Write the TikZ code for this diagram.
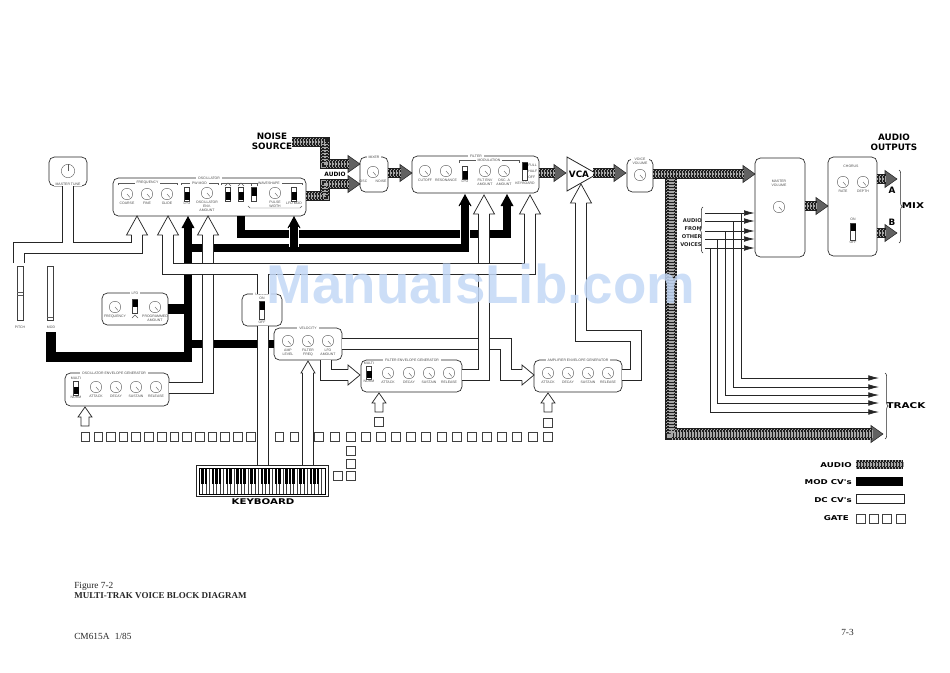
\documentclass[tikz,border=0pt]{standalone}
\usepackage{fontspec}
\setmainfont{Liberation Sans}
\newfontfamily\headfont{DejaVu Sans}
\newfontfamily\wideheadfont[FakeStretch=1.3]{DejaVu Sans}
\newfontfamily\capfont{Liberation Serif}
\usetikzlibrary{positioning}
\usetikzlibrary{fit}
\usetikzlibrary{arrows.meta}
\usetikzlibrary{decorations.pathreplacing}
\definecolor{stamp}{HTML}{C3D8F6}

\tikzset{
	panel/.style={
		draw=black!85,
		line width=0.5pt,
		rounded corners=4pt,
		inner sep=0pt,
	},
	tinylabel/.style={
		font=\fontsize{2.6}{3.1}\selectfont,
		text=black!70,
		inner sep=0pt,
		align=center,
	},
	paneltitle/.style={
		tinylabel,
		fill=white,
		inner xsep=1.5pt,
	},
	biglabel/.style={
		font=\headfont\bfseries\fontsize{6.6}{7.6}\selectfont,
		inner sep=0pt,
		align=center,
	},
	widelabel/.style={
		font=\wideheadfont\bfseries\fontsize{#1}{7}\selectfont,
		inner sep=0pt,
		align=center,
	},
	midlabel/.style={
		font=\headfont\bfseries\fontsize{3.9}{6}\selectfont,
		text=black!85,
		inner sep=0pt,
		align=right,
	},
	caplabel/.style={
		font=\capfont\fontsize{7}{7.6}\selectfont,
		inner sep=0pt,
		text=black!85,
		anchor=west,
	},
	knobdial/.style={
		circle,
		draw=black!65,
		line width=0.3pt,
		minimum size=8.6pt,
		inner sep=0pt,
	},
	knobline/.style={
		draw=black!65,
		line width=0.3pt,
	},
	sliderbox/.style={
		draw=black!75,
		line width=0.3pt,
		fill=white,
		inner sep=0pt,
	},
	sectionline/.style={
		draw=black!65,
		line width=0.3pt,
	},
	gatebox/.style={
		draw=black!75,
		line width=0.45pt,
		minimum size=6.6pt,
		inner sep=0pt,
	},
	dcbus/.style={
		draw=black!85,
		line width=0.75pt,
		double=white,
		double distance=7.2pt,
		line join=miter,
	},
	dctip/.style={
		draw=black!85,
		fill=white,
		line width=0.55pt,
		line join=miter,
	},
	modbus/.style={
		draw=black,
		line width=6.3pt,
		line join=miter,
	},
	modhalo/.style={
		preaction={draw=white,line width=8pt},
	},
	audiolayer/.style={
		postaction={
			draw=black!35,
			line width=#1,
			dash pattern=on 0.75pt off 1.5pt,
		},
	},
	audiophase/.style={
		postaction={
			draw=black!88,
			line width=#1,
		},
		postaction={
			draw=black!35,
			line width=#1,
			dash pattern=on 0.75pt off 1.5pt,
			dash phase=1.125pt,
		},
	},
	audiobus/.style={
		draw=black!88,
		line width=#1,
		line join=miter,
		audiolayer={#1-0.75pt},
		audiophase={#1-3pt},
		audiolayer={#1-5.25pt},
	},
	audiotip/.style={
		draw=black!85,
		fill=black!62,
		line width=0.4pt,
		line join=miter,
	},
	voiceline/.style={
		draw=black!85,
		line width=0.5pt,
	},
	voicetip/.style={
		voiceline,
		-{Latex[length=8pt,width=4.2pt]},
	},
	bracer/.style={
		draw=black!85,
		line width=0.4pt,
		decorate,
		decoration={brace,amplitude=2.4pt},
	},
}

% knob: name, x, y, text under it
\newcommand{\knob}[4]{
	\node[knobdial] (#1) at (#2,#3) {};
	\draw[knobline] (#1.center) -- ++(3,3.4);
	\node[tinylabel,below=1.3pt of #1] (#1label) {#4};
}
% slider: name, x, top, bottom, middle of black part
\newcommand{\slider}[5]{
	\node[sliderbox,fit={(#2-2.5,#3) (#2+2.5,#4)}] (#1) {};
	\fill[black] (#2-2.5,#5-3.6) rectangle (#2+2.5,#5+3.6);
}
\newcommand{\dchead}[4]{
	\begin{scope}[shift={(#2,#3)},rotate=#4]
		\draw[dctip] (-5.3,19) -- (-10.5,19) -- (0,0) -- (10.5,19) -- (5.3,19);
		\coordinate (#1) at (0,19);
	\end{scope}
}
\newcommand{\smallhead}[3]{
	\begin{scope}[shift={(#2,#3)},rotate=-90]
		\draw[dctip] (-5.3,12) -- (-10,12) -- (0,0) -- (10,12) -- (5.3,12);
		\coordinate (#1) at (0,12);
	\end{scope}
}
\newcommand{\modhead}[3]{
	\fill[black] (#2-6.5,#3+12) -- (#2,#3) -- (#2+6.5,#3+12) -- cycle;
	\coordinate (#1) at (#2,#3+11);
}
\newcommand{\audiohead}[3]{
	\draw[audiotip] (#2-12,#3-8.5) -- (#2,#3) -- (#2-12,#3+8.5) -- cycle;
	\coordinate (#1) at (#2-11,#3);
}
\newcommand{\gatehead}[3]{
	\draw[dctip] (#2,#3) -- (#2+7,#3+10) -- (#2+4,#3+10) -- (#2+4,#3+19)
		-- (#2-4,#3+19) -- (#2-4,#3+10) -- (#2-7,#3+10) -- cycle;
}

\begin{document}
\begin{tikzpicture}[x=0.75pt,y=-0.75pt]
\useasboundingbox (0,0) rectangle (950,672);

% panels
\node[panel,fit={(49,157) (87,186)}] (tune) {};
\node[panel,fit={(113,178) (306,216)}] (osc) {};
\node[panel,fit={(360,157) (388,192)}] (mixer) {};
\node[panel,fit={(412,156) (539,193)}] (filter) {};
\node[panel,fit={(627,159) (653,192)}] (voice) {};
\node[panel,fit={(755,158) (805,257)}] (master) {};
\node[panel,fit={(828,157) (877,256)}] (chorus) {};
\node[panel,fit={(102,293) (168,325)}] (lfo) {};
\node[panel,fit={(242,294) (282,326)}] (unison) {};
\node[panel,fit={(274,328) (342,360)}] (velocity) {};
\node[panel,fit={(65,373) (169,406)}] (oscenv) {};
\node[panel,fit={(361,360) (462,392)}] (filtenv) {};
\node[panel,fit={(534,360) (622,392)}] (ampenv) {};
\node[draw=black!85,line width=0.6pt,inner sep=0pt,fit={(196,465) (328,496)}] (keys) {};
\draw[line width=0.6pt,draw=black!85,fill=white] (567,157) -- (597,174) -- (567,191) -- cycle;
\node[biglabel] (vca) at (579,174.5) {VCA};

% titles
\node[paneltitle] (tunetitle) at (68,184.5) {MASTER TUNE};
\node[paneltitle] (osctitle) at (209,178) {OSCILLATOR};
\node[paneltitle] (mixertitle) at (374,157) {MIXER};
\node[paneltitle] (filtertitle) at (476,156) {FILTER};
\node[paneltitle] (voicetitle) at (640,161.5) {VOICE\\VOLUME};
\node[tinylabel] (mastertitle) at (779,183) {MASTER\\VOLUME};
\node[tinylabel] (chorustitle) at (851,166) {CHORUS};
\node[paneltitle] (lfotitle) at (135,293) {LFO};
\node[paneltitle] (unisontitle) at (262,294) {UNISON};
\node[paneltitle] (velocitytitle) at (308,328) {VELOCITY};
\node[paneltitle] (oscenvtitle) at (114,373) {OSCILLATOR ENVELOPE GENERATOR};
\node[paneltitle] (filtenvtitle) at (412,360) {FILTER ENVELOPE GENERATOR};
\node[paneltitle] (ampenvtitle) at (578,360) {AMPLIFIER ENVELOPE GENERATOR};

% section lines of the oscillator and filter
\draw[sectionline] (118,185) -- (118,183) -- (177,183) -- (177,185);
\draw[sectionline] (181,185) -- (181,183) -- (218,183) -- (218,185);
\draw[sectionline] (221,185) -- (221,183) -- (302,183) -- (302,185);
\draw[sectionline] (248,206) -- (250,208) -- (300,208) -- (302,206);
\draw[sectionline] (459,163) -- (459,160) -- (519,160) -- (519,163);
\node[paneltitle] (freqtitle) at (147.5,183) {FREQUENCY};
\node[paneltitle] (pwmtitle) at (199.5,183) {PW MOD};
\node[paneltitle] (wavetitle) at (269,183) {WAVESHAPE};
\node[paneltitle] (modtitle) at (489,160) {MODULATION};

% knobs
\node[knobdial,minimum size=10pt] (tuneknob) at (68,171) {};
\draw[knobline] (tuneknob.center) -- (tuneknob.north);
\knob{coarse}{127}{194}{COARSE}
\knob{fine}{147}{194}{FINE}
\knob{glide}{167}{194}{GLIDE}
\knob{oscamount}{207}{193}{OSCILLATOR\\ENV.\\AMOUNT}
\knob{pulse}{275}{193}{PULSE\\WIDTH}
\knob{mixknob}{373}{172}{}
\knob{cutoff}{425}{171}{CUTOFF}
\knob{resonance}{446}{171}{RESONANCE}
\knob{filtamount}{485}{171}{FILT ENV\\AMOUNT}
\knob{oscaamount}{504}{171}{OSC. A\\AMOUNT}
\knob{volumeknob}{640}{175}{}
\knob{masterknob}{779}{207}{}
\knob{rate}{843}{182}{RATE}
\knob{depth}{863}{182}{DEPTH}
\knob{lfofreq}{115}{307}{FREQUENCY}
\knob{lfoamount}{155}{307}{PROGRAMMED\\AMOUNT}
\knob{velamp}{288}{341}{AMP\\LEVEL}
\knob{velfilt}{308}{341}{FILTER\\FREQ}
\knob{vellfo}{328}{341}{LFO\\AMOUNT}
\knob{oscattack}{96}{387}{ATTACK}
\knob{oscdecay}{116}{387}{DECAY}
\knob{oscsustain}{136}{387}{SUSTAIN}
\knob{oscrelease}{156}{387}{RELEASE}
\knob{filtattack}{388}{373}{ATTACK}
\knob{filtdecay}{409}{373}{DECAY}
\knob{filtsustain}{429}{373}{SUSTAIN}
\knob{filtrelease}{449}{373}{RELEASE}
\knob{ampattack}{548}{373}{ATTACK}
\knob{ampdecay}{568}{373}{DECAY}
\knob{ampsustain}{588}{373}{SUSTAIN}
\knob{amprelease}{608}{373}{RELEASE}
\node[tinylabel] (mixosc) at (363.5,181) {OSC};
\node[tinylabel] (mixnoise) at (381,181) {NOISE};

% sliders
\slider{oscpw}{187}{187}{201}{196}
\slider{wavea}{228}{187}{201}{196}
\slider{waveb}{241}{187}{201}{196}
\slider{wavec}{254}{187}{201}{192}
\slider{wavelfo}{294}{187}{201}{196}
\slider{filtlfo}{465}{166}{179}{175}
\slider{filtkey}{525}{162}{180}{166.5}
\slider{chorussw}{853}{223}{240}{227.5}
\slider{lfowave}{135}{299}{313}{303.5}
\slider{unisonsw}{262}{301}{319}{306}
\slider{oscmode}{76}{381}{395}{390.5}
\slider{filtmode}{369}{366}{379}{374.5}
\draw[knobline] (225,186) -- (228,183) -- (231,186);
\draw[knobline] (238,186) -- (241,183) -- (244,186);
\draw[knobline] (251,186) -- (251,183) -- (257,183) -- (257,186);
\draw[knobline] (132,318) -- (135,315) -- (138,318);
\node[tinylabel] (oscpwlabel) at (187,203.5) {LFO};
\node[tinylabel] (wavelfolabel) at (294,203.5) {LFO MOD};
\node[tinylabel] (filtlfolabel) at (465,181.5) {LFO};
\node[tinylabel,anchor=west] (keyfull) at (528,165) {FULL};
\node[tinylabel,anchor=west] (keyhalf) at (528,171) {HALF};
\node[tinylabel,anchor=west] (keyoff) at (528,177) {OFF};
\node[tinylabel] (keytext) at (525,183) {KEYBOARD};
\node[tinylabel] (choruson) at (853,219) {ON};
\node[tinylabel] (chorusoff) at (853,242.5) {OFF};
\node[tinylabel] (unisonon) at (262,298) {ON};
\node[tinylabel] (unisonoff) at (262,322) {OFF};
\node[tinylabel] (oscmulti) at (76,378) {MULTI};
\node[tinylabel] (oscnorm) at (76,397.5) {NORM};
\node[tinylabel] (filtmulti) at (369,363.5) {MULTI};
\node[tinylabel] (filtnorm) at (369,381.5) {NORM};

% wheels
\node[sliderbox,fit={(17,266) (23,320)}] (pitch) {};
\draw[knobline] (17,292) -- (23,292) (17,295) -- (23,295);
\node[sliderbox,fit={(47,266) (53,320)}] (mod) {};
\draw[knobline] (47,317) -- (53,317);
\node[tinylabel] (pitchlabel) at (20,327) {PITCH};
\node[tinylabel] (modlabel) at (51,327) {MOD};

% keyboard
\foreach \k in {0,...,36}{
	\draw[black!75,line width=0.3pt] (199+3.5*\k,468) -- (199+3.5*\k,494);
}
\draw[black,line width=0.6pt] (199,468) rectangle (325,494);
\foreach \o in {0,...,4}{
	\foreach \b in {1,2,4,5,6}{
		\fill[black] (199+3.5*7*\o+3.5*\b-1.1,468) rectangle (199+3.5*7*\o+3.5*\b+1.1,484);
	}
}
\node[widelabel=5.9] (keylabel) at (263,501.5) {KEYBOARD};

% mod cv
\modhead{filtlfotip}{465}{194}
\modhead{oscatip}{507}{194}
\modhead{wavetip}{294}{216}
\modhead{oscpwtip}{188}{216}
\draw[modbus] (241,216) -- (241,234) -- (oscatip |- 0,234) -- (oscatip);
\draw[modbus,modhalo] (188,248) -- (filtlfotip |- 0,248) -- (filtlfotip);
\draw[modbus,modhalo] (wavetip |- 0,247) -- (wavetip);
\draw[modbus,line width=7.4pt] (lfo.east |- 0,309) -- (188,309);
\draw[modbus] (188,344) -- (velocity.west |- 0,344);
\draw[modbus,line width=7.4pt] (51,332) -- (51,357) -- (192,357);
\draw[modbus] (188,362) -- (oscpwtip);

% dc cv
\dchead{pitchtip}{137}{216}{0}
\dchead{glidetip}{168}{216}{0}
\dchead{oscenvtip}{208}{216}{0}
\dchead{filtenvtip}{484}{195}{0}
\dchead{keytip}{530}{195}{0}
\dchead{vcatip}{581}{184}{0}
\smallhead{velfilttip}{360}{375}
\smallhead{velamptip}{534}{375}
\begin{scope}[shift={(308,361)}]
	\draw[dctip] (-5.3,12) -- (-7,12) -- (0,0) -- (7,12) -- (5.3,12);
	\coordinate (velkeytip) at (0,12);
\end{scope}
\coordinate (tunejoin) at (68,248);
\coordinate (rowjoin) at (263,269);
\draw[dcbus] (tune.south) -- (tunejoin) (19,263) -- (19,248) -- (137,248) -- (pitchtip);
\draw[dcbus] (velocity.east |- 0,344) -- (506,344) -- (506,375) -- (velamptip);
\draw[dcbus] (326,360) -- (326,375) -- (velfilttip);
\draw[dcbus] (filtenv.east |- 0,375) -- (484,375) -- (filtenvtip);
\draw[dcbus] (oscenv.east |- 0,388) -- (208,388) -- (oscenvtip);
\draw[dcbus] (ampenv.east |- 0,375) -- (636,375) -- (636,336) -- (581,336) -- (vcatip);
\draw[dcbus] (glidetip) -- (168,269) -- (530,269) -- (keytip) (263,294) -- (rowjoin);
\draw[dcbus] (263,465) -- (263,326);
\draw[dcbus] (308,465) -- (velkeytip);

% gate
\gatehead{oscgate}{85}{407}
\gatehead{filtgate}{379}{393}
\gatehead{ampgate}{548}{393}
\foreach \g in {85.3,98.3,111,123.3,136,148.7,161.7,174.3,187,200,212.3,225,238,250.7,279.3,294.3,319,335,351,366,381,396,411,426,442,457,472,487,502,517,533,548}{
	\node[gatebox] (gate\g) at (\g,437) {};
}
\node[gatebox] (gatefilt) at (379,422) {};
\node[gatebox] (gateamp) at (548,423) {};
\node[gatebox] (gatekeya) at (351,451) {};
\node[gatebox] (gatekeyb) at (351,463.5) {};
\node[gatebox] (gatekeyc) at (351,476) {};
\node[gatebox] (gatekeyd) at (338,476) {};

% audio
\node[biglabel] (noise) at (272,141) {NOISE\\SOURCE};
\node[biglabel,font=\headfont\bfseries\fontsize{4.4}{6}\selectfont] (audiolabel) at (335,174) {AUDIO};
\audiohead{noisetip}{360}{164}
\audiohead{osctip}{360}{184}
\audiohead{filtertip}{412}{173}
\audiohead{vcatipa}{566}{173}
\audiohead{voicetip}{626}{173}
\audiohead{mastertip}{755}{174}
\audiohead{tracktip}{883}{434}
\audiohead{chorustip}{828}{206}
\audiohead{outa}{897}{179}
\audiohead{outb}{897}{233}
\draw[audiobus=7pt] (noise.east |- 0,142) -- (325,142) -- (325,164) -- (noisetip);
\draw[audiobus=7pt] (osc.east |- 0,196) -- (325,196) -- (325,184) -- (osctip);
\draw[audiobus=7pt] (mixer.east |- 0,173) -- (filtertip);
\draw[audiobus=7pt] (filter.east |- 0,173) -- (vcatipa);
\draw[audiobus=7pt] (593,173) -- (voicetip);
\draw[audiobus=7pt] (master.east |- 0,206) -- (chorustip);
\draw[audiobus=7pt] (chorus.east |- 0,179) -- (outa);
\draw[audiobus=7pt] (chorus.east |- 0,233) -- (outb);
\draw[audiobus=9pt] (671,174) -- (671,434) -- (tracktip);
\draw[audiobus=7.4pt] (voice.east |- 0,174) -- (mastertip);

% other voices
\node[midlabel] (others) at (691,233) {AUDIO\\FROM\\OTHER\\VOICES};
\draw[voicetip] (705,213) -- (master.west |- 0,213);
\draw[voicetip] (705,221) -- (master.west |- 0,221);
\draw[voicetip] (705,231) -- (master.west |- 0,231);
\draw[voicetip] (705,239) -- (master.west |- 0,239);
\draw[voicetip] (705,248) -- (master.west |- 0,248);
\draw[voicetip] (741.5,213) -- (741.5,378) -- (879,378);
\draw[voicetip] (733,221) -- (733,387) -- (879,387);
\draw[voicetip] (725,231) -- (725,395) -- (879,395);
\draw[voicetip] (717,239) -- (717,403) -- (879,403);
\draw[voicetip] (710,248) -- (710,412) -- (879,412);
\draw[bracer] (703,253) -- (703,207);
\draw[bracer] (885,373) -- (885,439);
\draw[bracer] (899,170) -- (899,243);

% output labels
\node[biglabel] (outputs) at (894,142) {AUDIO\\OUTPUTS};
\node[biglabel] (outalabel) at (892,190) {A};
\node[biglabel] (outblabel) at (892,222) {B};
\node[widelabel=6] (mixlabel) at (913,206) {MIX};
\node[widelabel=6] (tracklabel) at (906,406) {TRACK};

% legend
\node[widelabel=5,anchor=east] (legaudio) at (852,465) {AUDIO};
\node[widelabel=5,anchor=east] (legmod) at (852,482) {MOD CV's};
\node[widelabel=5,anchor=east] (legdc) at (852,500) {DC CV's};
\node[widelabel=5,anchor=east] (leggate) at (849,518) {GATE};
\draw[audiobus=7pt] (856,464.5) -- (903,464.5);
\node[fill=black,inner sep=0pt,fit={(856,477) (903,486)}] (legmodbox) {};
\node[draw=black!85,line width=0.5pt,inner sep=0pt,fit={(856,494) (904,503)}] (legdcbox) {};
\foreach \g in {860.5,873.5,887,900.5}{
	\node[gatebox] (leg\g) at (\g,518.5) {};
}

% captions
\node[caplabel] (figure) at (74,586) {Figure 7-2};
\node[caplabel,font=\capfont\bfseries\fontsize{6.75}{7.6}\selectfont] (figtitle) at (74,596) {MULTI-TRAK VOICE BLOCK DIAGRAM};
\node[caplabel] (docnumber) at (74,636) {CM615A\hspace{4pt}1/85};
\node[caplabel] (pagenumber) at (841,632) {7-3};

% stamp
\node[font=\bfseries\fontsize{41}{44}\selectfont,text=stamp,text opacity=0.85,inner sep=0pt] (stamptext) at (481,284) {ManualsLib.com};
\end{tikzpicture}
\end{document}
